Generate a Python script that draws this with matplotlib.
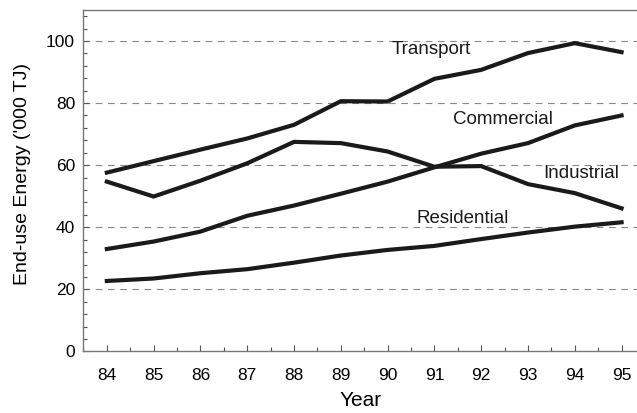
import matplotlib
matplotlib.use("Agg")
import matplotlib.pyplot as plt
from matplotlib.ticker import MultipleLocator

plt.rcParams['font.family'] = ['Liberation Sans', 'DejaVu Sans']

# Data
years = [84, 85, 86, 87, 88, 89, 90, 91, 92, 93, 94, 95]
transport = [57.6, 61.3, 65.0, 68.6, 73.0, 80.6, 80.5, 87.8, 90.7, 96.1, 99.3, 96.4]
industrial = [54.7, 49.9, 55.0, 60.6, 67.5, 67.1, 64.4, 59.5, 59.7, 53.9, 51.0, 46.1]
commercial = [33.0, 35.4, 38.6, 43.7, 47.0, 50.8, 54.7, 59.3, 63.7, 67.1, 72.8, 76.0]
residential = [22.7, 23.5, 25.2, 26.5, 28.6, 30.9, 32.7, 34.0, 36.2, 38.3, 40.2, 41.6]

series = [transport, industrial, commercial, residential]
labels = ["Transport", "Commercial", "Industrial", "Residential"]
label_pos = [(90.93, 97.2), (92.47, 74.6), (94.13, 57.4), (91.6, 42.9)]

fig = plt.figure(figsize=(6.37, 4.13), dpi=100)
ax = fig.add_axes([0.131, 0.149, 0.869, 0.827])

for s in series:
    ax.plot(years, s, color='#1a1a1a', lw=3, solid_joinstyle='miter')

for txt, (x, y) in zip(labels, label_pos):
    ax.text(x, y, txt, ha='center', va='center', fontsize=13.5, color='#1a1a1a')

ax.set_xlim(83.5, 95.33)
ax.set_ylim(0, 110)
ax.set_xticks(years)
ax.set_yticks([0, 20, 40, 60, 80, 100])
ax.xaxis.set_minor_locator(MultipleLocator(0.5))
ax.yaxis.set_minor_locator(MultipleLocator(4))
ax.tick_params(which='both', direction='in', color='#555555', width=0.8)
ax.tick_params(which='major', length=4, labelsize=12.5, pad=6)
ax.tick_params(which='minor', length=3)
ax.tick_params(axis='x', pad=12)

for yv in [20, 40, 60, 80, 100]:
    ax.axhline(yv, color='#888888', lw=0.8, ls=(0, (6, 5)), zorder=0)

ax.spines['right'].set_visible(False)
for side in ['left', 'bottom', 'top']:
    ax.spines[side].set_color('#777777')
    ax.spines[side].set_linewidth(1.0)

ax.set_xlabel("Year", fontsize=15, labelpad=6)
ax.set_ylabel("End-use Energy ('000 TJ)", fontsize=14)
ax.yaxis.set_label_coords(-0.095, 0.52)

fig.savefig("out.png", dpi=100)
